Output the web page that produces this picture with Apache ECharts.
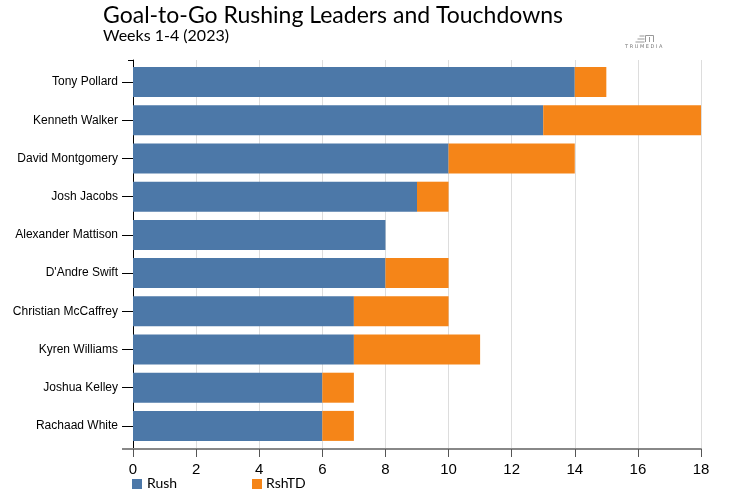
<!DOCTYPE html>
<html><head><meta charset="utf-8">
<script src="https://cdn.jsdelivr.net/npm/echarts@6/dist/echarts.min.js"></script>
<style>html,body{margin:0;padding:0;background:#fff}#c{width:738px;height:495px}</style>
</head><body><div id="c"></div>
<script>
const players = ["Tony Pollard","Kenneth Walker","David Montgomery","Josh Jacobs","Alexander Mattison","D'Andre Swift","Christian McCaffrey","Kyren Williams","Joshua Kelley","Rachaad White"];
const rush = [14,13,10,9,8,8,7,7,6,6];
const rshTD = [1,5,4,1,0,2,3,4,1,1];
const xTicks = [0,2,4,6,8,10,12,14,16,18];

const chart = echarts.init(document.getElementById('c'), null, {renderer:'canvas'});
const L = 133, R = 701, T = 60, B = 449;
const font = 'Liberation Sans, Arial, sans-serif';
chart.setOption({
  animation:false,
  textStyle:{fontFamily:font},
  grid:[
    {left:L, right:738-R, top:T, bottom:495-B, containLabel:false},
    {left:L, right:738-R, top:63, bottom:50, containLabel:false}
  ],
  xAxis:[
    {gridIndex:0, type:'value', min:xTicks[0], max:xTicks[xTicks.length-1], interval:2,
     axisLine:{show:true, lineStyle:{color:'#888', width:2}},
     axisTick:{show:true, length:8, lineStyle:{color:'#555'}},
     axisLabel:{color:'#000', fontSize:15, margin:13, fontFamily:font},
     splitLine:{show:true, lineStyle:{color:'#ddd', width:1}}
    },
    {gridIndex:1, type:'value', min:0, max:18, show:false}
  ],
  yAxis:[
    {gridIndex:0, type:'value', min:0, max:1,
     axisLine:{show:true, lineStyle:{color:'#000', width:1}},
     axisTick:{show:false}, axisLabel:{show:false}, splitLine:{show:false}},
    {gridIndex:1, type:'category', data:players, inverse:true,
     axisLine:{show:false},
     axisTick:{show:true, alignWithLabel:true, length:11, lineStyle:{color:'#000'}},
     axisLabel:{color:'#000', fontSize:12, margin:15, fontFamily:font},
     splitLine:{show:false}
    }
  ],
  series:[
    {name:'Rush', type:'bar', stack:'t', xAxisIndex:1, yAxisIndex:1, data:rush, barWidth:30,
     itemStyle:{color:'#4c78a8'}},
    {name:'RshTD', type:'bar', stack:'t', xAxisIndex:1, yAxisIndex:1, data:rshTD, barWidth:30,
     itemStyle:{color:'#f58518'}}
  ],
  graphic:[
    {type:'text', left:103, top:4, style:{text:'Goal-to-Go Rushing Leaders and Touchdowns', font:'23px Lato', fill:'#000'}},
    {type:'text', left:103, top:28, style:{text:'Weeks 1-4 (2023)', font:'16px Lato', fill:'#000'}},
    {type:'line', shape:{x1:122, y1:B, x2:L, y2:B}, style:{stroke:'#888', lineWidth:2}},
    {type:'line', shape:{x1:L-5, y1:T+0.5, x2:L, y2:T+0.5}, style:{stroke:'#000', lineWidth:1}},
    {type:'line', shape:{x1:L+0.5, y1:B, x2:L+0.5, y2:B+8}, style:{stroke:'#000', lineWidth:1}},
    {type:'rect', shape:{x:132, y:479, width:10, height:10}, style:{fill:'#4c78a8'}},
    {type:'text', left:147, top:476, style:{text:'Rush', font:'14px Lato', fill:'#000'}},
    {type:'rect', shape:{x:252, y:479, width:10, height:10}, style:{fill:'#f58518'}},
    {type:'text', left:266, top:476, style:{text:'RshTD', font:'14px Lato', fill:'#000'}},
    {type:'group', left:633, top:33, children:[
      {type:'line', shape:{x1:4, y1:1, x2:9, y2:1}, style:{stroke:'#999', lineWidth:1}},
      {type:'line', shape:{x1:2, y1:4, x2:9, y2:4}, style:{stroke:'#999', lineWidth:1}},
      {type:'line', shape:{x1:0, y1:7, x2:9, y2:7}, style:{stroke:'#999', lineWidth:1}},
      {type:'polyline', shape:{points:[[10,7],[10,0.5],[18,0.5],[18,7]]}, style:{stroke:'#999', fill:null, lineWidth:1}},
      {type:'line', shape:{x1:14, y1:2, x2:14, y2:7}, style:{stroke:'#999', lineWidth:1}}
    ]},
    {type:'text', left:625, top:44, style:{text:'T R U M E D I A', font:'5px DejaVu Sans', fill:'#777'}}
  ]
});
</script></body></html>
